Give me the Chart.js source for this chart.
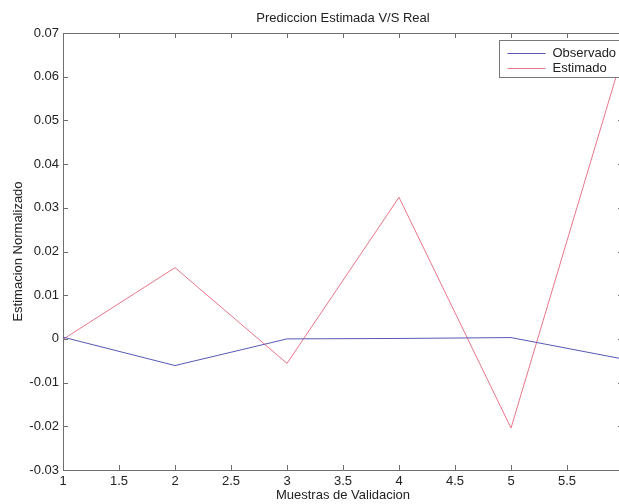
<!DOCTYPE html>
<html>
<head>
<meta charset="utf-8">
<title>Prediccion Estimada V/S Real</title>
<script src="https://cdn.jsdelivr.net/npm/chart.js@4.4.0/dist/chart.umd.min.js"></script>
<style>
  html, body { margin: 0; padding: 0; background: #fff; overflow: hidden; }
  #wrap { width: 619px; height: 504px; overflow: hidden; }
  canvas { display: block; }
</style>
</head>
<body>
<div id="wrap"><canvas id="grafico" width="630" height="504"></canvas></div>
<script>
// datos
const muestras = [1, 2, 3, 4, 5, 6];
const observado = [0.0004, -0.0061, 0.0000, 0.0001, 0.0003, -0.0046];
const estimado = [-0.0001, 0.0163, -0.0056, 0.0324, -0.0204, 0.0653];
const ticksX = [1, 1.5, 2, 2.5, 3, 3.5, 4, 4.5, 5, 5.5];
const ticksY = [-0.03, -0.02, -0.01, 0, 0.01, 0.02, 0.03, 0.04, 0.05, 0.06, 0.07];

const colorEje = '#6e6e6e';
const colorTexto = '#222';
const fuente = { family: 'Liberation Sans, Arial, sans-serif', size: 13 };

// caja completa (arriba/derecha) + marcas hacia adentro como en MATLAB, y leyenda con borde
const cajaEjes = {
  id: 'cajaEjes',
  afterDraw(chart) {
    const { ctx, chartArea: a, scales: { x, y } } = chart;
    const largo = 5;
    ctx.save();
    ctx.strokeStyle = colorEje;
    ctx.lineWidth = 1;
    ctx.beginPath();
    ctx.moveTo(a.left, a.top + 0.5);
    ctx.lineTo(a.right, a.top + 0.5);
    ctx.moveTo(a.right - 0.5, a.top);
    ctx.lineTo(a.right - 0.5, a.bottom);
    x.ticks.forEach(t => {
      const px = Math.round(x.getPixelForValue(t.value)) + 0.5;
      ctx.moveTo(px, a.bottom);
      ctx.lineTo(px, a.bottom - largo);
      ctx.moveTo(px, a.top);
      ctx.lineTo(px, a.top + largo);
    });
    y.ticks.forEach(t => {
      const py = Math.round(y.getPixelForValue(t.value)) + 0.5;
      ctx.moveTo(a.left, py);
      ctx.lineTo(a.left + largo, py);
      ctx.moveTo(a.right, py);
      ctx.lineTo(a.right - largo, py);
    });
    ctx.stroke();

    // leyenda
    const izq = 499.5, arriba = a.top + 7.5, ancho = 125, alto = 37;
    ctx.fillStyle = '#fff';
    ctx.fillRect(izq, arriba, ancho, alto);
    ctx.strokeStyle = '#777';
    ctx.strokeRect(izq, arriba, ancho, alto);
    ctx.font = fuente.size + 'px ' + fuente.family;
    ctx.textBaseline = 'middle';
    ctx.textAlign = 'left';
    chart.data.datasets.forEach((ds, i) => {
      const fy = Math.round(arriba + 12 + i * 15) + 0.5;
      ctx.strokeStyle = ds.borderColor;
      ctx.beginPath();
      ctx.moveTo(izq + 8, fy);
      ctx.lineTo(izq + 46, fy);
      ctx.stroke();
      ctx.fillStyle = colorTexto;
      ctx.fillText(ds.label, izq + 53, fy);
    });
    ctx.restore();
  }
};

const ctx = document.getElementById('grafico').getContext('2d');
const grafico = new Chart(ctx, {
  type: 'line',
  data: {
    datasets: [
      {
        label: 'Observado',
        data: muestras.map((m, i) => ({ x: m, y: observado[i] })),
        borderColor: '#5858b4',
        borderWidth: 1,
        pointRadius: 0,
        tension: 0
      },
      {
        label: 'Estimado',
        data: muestras.map((m, i) => ({ x: m, y: estimado[i] })),
        borderColor: '#e8768a',
        borderWidth: 1,
        pointRadius: 0,
        tension: 0
      }
    ]
  },
  options: {
    responsive: false,
    animation: false,
    devicePixelRatio: 1,
    layout: { padding: { left: 0, right: 7, top: 0, bottom: 0 } },
    plugins: {
      legend: { display: false },
      tooltip: { enabled: false },
      title: {
        display: true,
        text: 'Prediccion Estimada V/S Real',
        fullSize: false,
        color: colorTexto,
        font: { ...fuente, weight: 'normal' },
        padding: { top: 11, bottom: 6.4 }
      }
    },
    scales: {
      x: {
        type: 'linear',
        min: 1,
        max: 6,
        afterBuildTicks: s => { s.ticks = ticksX.map(v => ({ value: v })); },
        afterFit: s => { s.height = 34; },
        grid: { display: false, drawTicks: false },
        border: { display: true, color: colorEje, width: 1 },
        ticks: {
          autoSkip: false,
          maxRotation: 0,
          padding: 4,
          color: colorTexto,
          font: fuente,
          callback: v => String(v)
        },
        title: {
          display: true,
          text: 'Muestras de Validacion',
          color: colorTexto,
          font: fuente,
          padding: { top: 0, bottom: 1 }
        }
      },
      y: {
        type: 'linear',
        min: -0.03,
        max: 0.07,
        afterBuildTicks: s => { s.ticks = ticksY.map(v => ({ value: v })); },
        afterFit: s => { s.width = 63; },
        grid: { display: false, drawTicks: false },
        border: { display: true, color: colorEje, width: 1 },
        ticks: {
          padding: 4,
          color: colorTexto,
          font: fuente,
          callback: v => String(parseFloat(v.toFixed(2)))
        },
        title: {
          display: true,
          text: 'Estimacion Normalizado',
          color: colorTexto,
          font: fuente,
          padding: { top: 11, bottom: 0 }
        }
      }
    }
  },
  plugins: [cajaEjes]
});
</script>
</body>
</html>
